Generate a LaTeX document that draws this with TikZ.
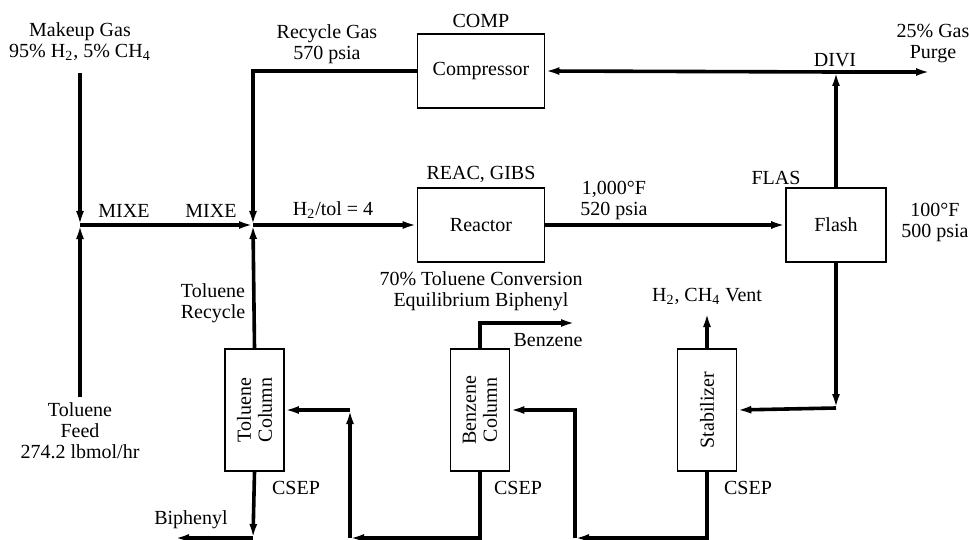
\documentclass[tikz,border=0pt]{standalone}
\usepackage{fontspec}
\setmainfont{Liberation Serif}
\usetikzlibrary{arrows.meta}

\tikzset{
  flow/.style={line width=1.8pt, line join=miter, -{Latex[length=7pt,width=4pt]}},
  pipe/.style={line width=1.8pt, line join=miter},
  unit/.style={draw, line width=0.8pt, inner sep=0pt, minimum width=63.5pt, minimum height=37pt},
  column/.style={draw, line width=0.8pt, inner sep=0pt, minimum width=29.5pt, minimum height=61pt},
  coltext/.style={rotate=90, align=center}
}

\begin{document}
\begin{tikzpicture}[x=0.5pt, y=-0.5pt, every node/.style={font=\fontsize{10}{10.5}\selectfont, align=center}]
\useasboundingbox (0,0) rectangle (970,540);

% unit operations
\node [unit, label={[yshift=-1pt]above:COMP}] (comp) at (481,71) {Compressor};
\node [unit, label={[yshift=-1pt]above:{REAC, GIBS}}] (reac) at (481,225) {Reactor};
\node [unit, minimum width=50pt] (flash) at (836,225) {Flash};
\node [column] (tcol) at (254.5,410) {};
\node [coltext] at (tcol) {Toluene\\Column};
\node [column] (bcol) at (480,410) {};
\node [coltext] at (bcol) {Benzene\\Column};
\node [column] (stab) at (707,410) {};
\node [coltext] at (stab) {Stabilizer};

% junctions and stream ends
\coordinate (mix1) at (80,225);
\coordinate (mix2) at (253,225);
\coordinate (divi) at (836,72);
\coordinate (gasin) at (80,73);
\coordinate (feedin) at (80,397);
\coordinate (purge) at (930,72);
\coordinate (vent) at (707,313);
\coordinate (benz) at (575,323);
\coordinate (biph) at (175,538);
\coordinate (tbot) at (253,538);
\coordinate (bbot) at (350,538);
\coordinate (btop) at (350,410);
\coordinate (sbot) at (575,538);
\coordinate (fbot) at (836,408);

% feeds and mixers
\draw [flow] (gasin) -- (mix1);
\draw [flow] (feedin) -- (mix1);
\draw [flow] (mix1) -- (mix2);
\draw [flow] (comp.west) -| (mix2);
\draw [flow] (tcol.north) -- (mix2);
\draw [flow] (mix2) -- (reac.west);
\draw [flow] (reac.east) -- (flash.west);

% vapour to divider
\draw [flow] (flash.north) -- (divi);
\draw [flow] (divi) -- (comp.east);
\draw [flow] (divi) -- (purge);

% liquid train
\draw [flow] (flash.south) -- (fbot);
\draw [flow] (fbot) -- (stab.east);
\draw [flow] (stab.north) -- (vent);
\draw [flow] (stab.south) |- (sbot);
\draw [flow] (sbot) |- (bcol.east);
\draw [flow] (bcol.north) |- (benz);
\draw [flow] (bcol.south) |- (bbot);
\draw [flow] (bbot) -- (btop);
\draw [flow] (btop) -- (tcol.east);
\draw [flow] (tcol.south) -- (tbot);
\draw [flow] (tbot) -- (biph);

% stream labels
\node (lmakeup) at (80,42) {Makeup Gas\\95\% H\textsubscript{2}, 5\% CH\textsubscript{4}};
\node (lfeed) at (80,431) {Toluene\\Feed\\274.2 lbmol/hr};
\node (lrecgas) at (327,44) {Recycle Gas\\570 psia};
\node (lpurge) at (933,44) {25\% Gas\\Purge};
\node (ldivi) at (835,60) {DIVI};
\node (lmix1) at (124,211) {MIXE};
\node (lmix2) at (211,211) {MIXE};
\node (lratio) at (333,210) {H\textsubscript{2}/tol = 4};
\node (lreacout) at (614,200) {1,000°F\\520 psia};
\node (lflas) at (776,178) {FLAS};
\node (lflash) at (935,222) {100°F\\500 psia};
\node (lconv) at (481,291) {70\% Toluene Conversion\\Equilibrium Biphenyl};
\node (ltolrec) at (213,303) {Toluene\\Recycle};
\node (lvent) at (707,296) {H\textsubscript{2}, CH\textsubscript{4} Vent};
\node (lbenz) at (548,340) {Benzene};
\node (lbiph) at (191,520) {Biphenyl};
\node (lcsep1) at (296,488) {CSEP};
\node (lcsep2) at (518,488) {CSEP};
\node (lcsep3) at (748,488) {CSEP};
\end{tikzpicture}
\end{document}
